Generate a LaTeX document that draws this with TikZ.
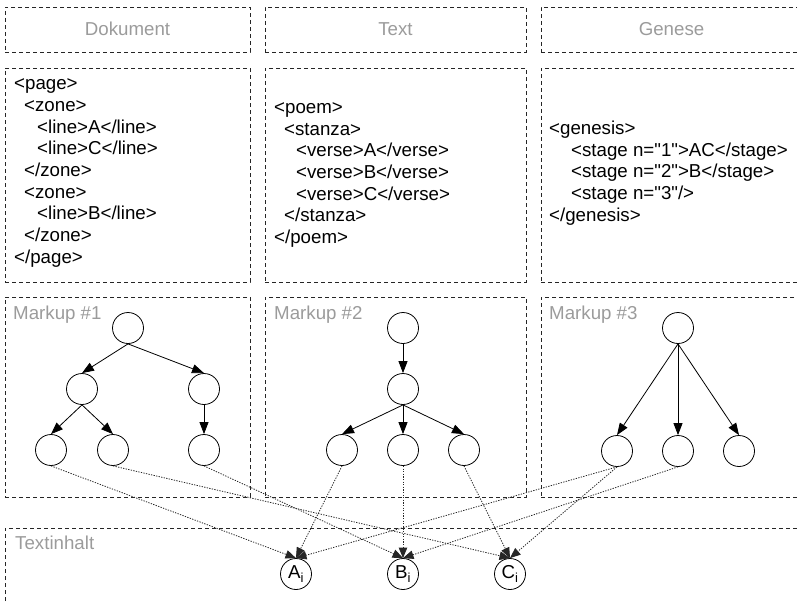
\documentclass[tikz,border=0pt]{standalone}
\usepackage{fontspec}
\setmainfont{Liberation Sans}[Ligatures=TeXOff]
\usetikzlibrary{arrows.meta}
\definecolor{lbl}{RGB}{155,155,155}
\newcommand\myfs{\fontsize{18.7pt}{21.7pt}\selectfont}
\begin{document}
\begin{tikzpicture}[x=1pt,y=-1pt,
  frame/.style={draw=black!85, dash pattern=on 4pt off 3pt, line width=0.7pt},
  hdr/.style={frame, minimum height=45pt, inner sep=0pt, text=lbl, font=\myfs, text height=15pt, text depth=2pt},
  blk/.style={frame, inner sep=0pt},
  code/.style={align=left, anchor=west, inner sep=0pt, font=\myfs},
  nd/.style={circle, draw, line width=0.8pt, minimum size=31pt, inner sep=0pt, font=\myfs},
  tree/.style={-{Triangle[length=12pt,width=9pt]}, line width=0.8pt},
  link/.style={-{Triangle[length=10.5pt,width=8.5pt]}, line width=0.8pt, dash pattern=on 1.3pt off 1.3pt, draw=black!85},
  lab/.style={anchor=base west, inner sep=0pt, text=lbl, font=\myfs}
]
\useasboundingbox (0,0) rectangle (797,602);

% header row
\node[hdr, minimum width=245pt] (hdoc) at (127.5,29.5) {Dokument};
\node[hdr, minimum width=261pt] (htext) at (395.5,29.5) {Text};
\node[hdr, minimum width=261pt] (hgen) at (671.5,29.5) {Genese};

% code row
\node[blk, minimum width=245pt, minimum height=214pt] (bdoc) at (127.5,175) {};
\node[blk, minimum width=261pt, minimum height=214pt] (btext) at (395.5,175) {};
\node[blk, minimum width=261pt, minimum height=214pt] (bgen) at (671.5,175) {};

\node[code] (cdoc) at (14,173) {<page>\\
\hspace*{10pt}<zone>\\
\hspace*{23pt}<line>A</line>\\
\hspace*{23pt}<line>C</line>\\
\hspace*{10pt}</zone>\\
\hspace*{10pt}<zone>\\
\hspace*{23pt}<line>B</line>\\
\hspace*{10pt}</zone>\\
</page>};

\node[code] (ctext) at (274,175) {<poem>\\
\hspace*{10pt}<stanza>\\
\hspace*{22pt}<verse>A</verse>\\
\hspace*{22pt}<verse>B</verse>\\
\hspace*{22pt}<verse>C</verse>\\
\hspace*{10pt}</stanza>\\
</poem>};

\node[code] (cgen) at (549,173) {<genesis>\\
\hspace*{22pt}<stage n="1">AC</stage>\\
\hspace*{22pt}<stage n="2">B</stage>\\
\hspace*{22pt}<stage n="3"/>\\
</genesis>};

% markup row
\node[blk, minimum width=245pt, minimum height=200pt] (mdoc) at (127.5,397) {};
\node[blk, minimum width=261pt, minimum height=200pt] (mtext) at (395.5,397) {};
\node[blk, minimum width=261pt, minimum height=200pt] (mgen) at (671.5,397) {};
\node[lab] (lm1) at (13,319) {Markup \#1};
\node[lab] (lm2) at (274,319) {Markup \#2};
\node[lab] (lm3) at (549,319) {Markup \#3};

% Textinhalt
\draw[frame] (5,615) -- (5,528) -- (810,528);
\node[lab] (lti) at (15,549) {Textinhalt};

% tree 1
\node[nd] (r1) at (128,328) {};
\node[nd] (p1) at (82,389) {};
\node[nd] (q1) at (204,389) {};
\node[nd] (a1) at (51,450) {};
\node[nd] (c1) at (113,450) {};
\node[nd] (b1) at (204,450) {};
\draw[tree] (r1.south) -- (p1.north);
\draw[tree] (r1.south) -- (q1.north);
\draw[tree] (p1.south) -- (a1.north);
\draw[tree] (p1.south) -- (c1.north);
\draw[tree] (q1.south) -- (b1.north);

% tree 2
\node[nd] (r2) at (403,328) {};
\node[nd] (p2) at (403,389) {};
\node[nd] (a2) at (342,450) {};
\node[nd] (b2) at (403,450) {};
\node[nd] (c2) at (464,450) {};
\draw[tree] (r2.south) -- (p2.north);
\draw[tree] (p2.south) -- (a2.north);
\draw[tree] (p2.south) -- (b2.north);
\draw[tree] (p2.south) -- (c2.north);

% tree 3
\node[nd] (r3) at (678,328) {};
\node[nd] (s1) at (617,451) {};
\node[nd] (s2) at (678,451) {};
\node[nd] (s3) at (739,451) {};
\draw[tree] (r3.south) -- (s1.north);
\draw[tree] (r3.south) -- (s2.north);
\draw[tree] (r3.south) -- (s3.north);

% text content
\node[nd] (Ai) at (296,574) {A\textsubscript{i}};
\node[nd] (Bi) at (403,574) {B\textsubscript{i}};
\node[nd] (Ci) at (510,574) {C\textsubscript{i}};

% links
\draw[link] (a1.south) -- (Ai.north);
\draw[link] (c1.south) -- (Ci.north);
\draw[link] (b1.south) -- (Bi.north);
\draw[link] (a2.south) -- (Ai.north);
\draw[link] (b2.south) -- (Bi.north);
\draw[link] (c2.south) -- (Ci.north);
\draw[link] (s1.south) -- (Ai.north);
\draw[link] (s1.south) -- (Ci.north);
\draw[link] (s2.south) -- (Bi.north);
\end{tikzpicture}
\end{document}
